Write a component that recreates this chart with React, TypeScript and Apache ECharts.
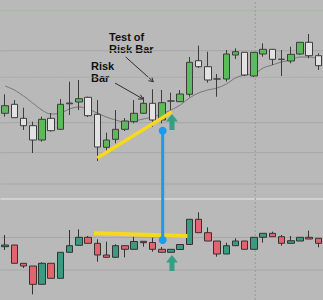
import React, { useEffect, useRef } from "react";
import * as echarts from "echarts";

// 35 sessions
const categories = [
  "01", "02", "03", "04", "05", "06", "07", "08", "09", "10",
  "11", "12", "13", "14", "15", "16", "17", "18", "19", "20",
  "21", "22", "23", "24", "25", "26", "27", "28", "29", "30",
  "31", "32", "33", "34", "35",
];

// Upper panel: price candles [open, close, low, high]
const priceOHLC: number[][] = [
  [186.7, 194.3, 183.3, 205.7],
  [195.7, 182.3, 182.0, 200.0],
  [181.7, 174.3, 170.0, 192.3],
  [174.3, 160.0, 147.0, 178.3],
  [160.0, 180.7, 158.3, 183.3],
  [181.7, 169.3, 168.3, 187.0],
  [170.7, 195.7, 170.0, 201.0],
  [196.2, 197.0, 185.0, 218.3],
  [198.0, 201.3, 190.0, 220.0],
  [202.7, 184.3, 183.0, 203.3],
  [185.7, 153.0, 139.0, 200.0],
  [152.7, 160.0, 148.3, 167.3],
  [160.7, 170.7, 156.7, 190.0],
  [170.7, 179.0, 169.0, 182.0],
  [178.3, 186.7, 176.7, 200.0],
  [186.7, 196.7, 186.0, 203.0],
  [196.7, 180.0, 173.3, 210.7],
  [180.0, 197.3, 176.7, 210.0],
  [199.0, 199.0, 190.0, 207.3],
  [198.3, 206.0, 198.0, 210.0],
  [205.7, 237.7, 203.3, 243.0],
  [239.3, 233.3, 232.0, 254.3],
  [233.3, 220.0, 217.3, 248.3],
  [221.0, 221.0, 203.3, 226.0],
  [221.0, 246.0, 218.3, 250.0],
  [245.0, 248.3, 241.0, 251.7],
  [247.7, 225.0, 224.0, 248.0],
  [224.0, 247.7, 223.0, 248.0],
  [246.0, 250.7, 243.3, 256.7],
  [250.7, 240.7, 235.0, 251.0],
  [240.7, 240.7, 224.0, 250.0],
  [239.0, 245.7, 236.7, 253.3],
  [246.0, 257.7, 245.0, 258.0],
  [257.7, 244.3, 241.7, 266.0],
  [244.3, 234.3, 230.0, 246.7],
];

// Upper panel: moving average
const priceMA: number[] = [
  214, 210, 204, 197, 190, 186, 187, 191, 193, 191,
  187, 183, 180, 178, 179, 181, 183, 186, 190, 195,
  202, 207, 210, 212, 216, 222, 225, 226, 232, 235,
  238, 240, 243, 243, 241,
];

// Lower panel: candles [open, close, low, high]
const lowerOHLC: number[][] = [
  [53.3, 55.0, 50.0, 65.0],
  [55.0, 36.7, 36.7, 55.0],
  [36.7, 34.0, 32.0, 37.0],
  [34.0, 15.7, 5.7, 34.0],
  [15.7, 36.7, 15.7, 37.7],
  [36.7, 21.7, 21.7, 36.7],
  [21.7, 47.7, 21.7, 47.7],
  [47.7, 54.3, 47.7, 70.0],
  [54.7, 62.7, 54.7, 70.7],
  [62.7, 56.7, 56.7, 64.0],
  [56.7, 45.0, 38.3, 60.7],
  [45.0, 42.7, 42.7, 58.3],
  [42.7, 54.3, 42.7, 55.7],
  [54.3, 50.7, 42.7, 54.3],
  [50.7, 58.5, 50.7, 63.3],
  [58.7, 57.3, 53.3, 58.7],
  [57.5, 50.7, 48.3, 62.3],
  [50.7, 47.7, 47.7, 53.0],
  [47.7, 50.7, 47.7, 50.7],
  [50.5, 55.5, 50.5, 55.5],
  [55.5, 80.7, 55.5, 80.7],
  [80.7, 67.3, 67.3, 87.7],
  [67.3, 59.0, 59.0, 72.7],
  [59.0, 46.0, 43.3, 59.0],
  [46.0, 54.3, 46.0, 57.3],
  [54.3, 59.0, 54.3, 61.7],
  [59.0, 50.7, 50.7, 59.0],
  [50.7, 62.7, 50.7, 62.7],
  [62.7, 66.7, 57.3, 66.7],
  [66.7, 63.3, 63.3, 68.3],
  [63.3, 56.7, 54.3, 65.0],
  [56.7, 59.3, 56.7, 64.0],
  [59.0, 62.7, 59.0, 62.7],
  [62.7, 61.0, 61.0, 69.3],
  [61.7, 56.7, 52.7, 61.7],
];

// Horizontal chart levels
const gridLevels = [249.3, 177.3, 147.3, 116, 62.5, 30];
const greenLevel = 289.3;
const dottedLevel = 222.7;
const panelDivider = 101;
const verticalMarker = 27.15;

// Annotations (x in session index, y in panel value)
const riskTrendline = [[10.0, 142], [18.08, 188]];
const lowerTrendline = [[9.65, 66.7], [19.79, 64]];
const testConnector = [[17.1, 169.3], [17.1, 60]];
const entryArrows = [[18.11, 178], [18.11, 37]];

const X0 = -0.5;
const X1 = 34.5;

function hLine(v: number) {
  return [[X0, v], [X1, v], ["-", "-"]];
}

function arrowHead(x1: number, y1: number, x2: number, y2: number) {
  const dx = x2 - x1;
  const dy = y2 - y1;
  const len = Math.hypot(dx, dy);
  const ux = dx / len;
  const uy = dy / len;
  const L = 5;
  const c = Math.cos(Math.PI / 6);
  const s = Math.sin(Math.PI / 6);
  const ax = ux * c - uy * s;
  const ay = ux * s + uy * c;
  const bx = ux * c + uy * s;
  const by = -ux * s + uy * c;
  return [
    [x2 - L * ax, y2 - L * ay],
    [x2, y2],
    [x2 - L * bx, y2 - L * by],
  ];
}

export default function App() {
  const ref = useRef<HTMLDivElement>(null);

  useEffect(() => {
    if (!ref.current) return;
    const chart = echarts.init(ref.current, null, { renderer: "svg" });

    const gridLineData: any[] = [];
    gridLevels.forEach((v) => gridLineData.push(...hLine(v)));

    const arrowStroke = { stroke: "#2e2e2e", lineWidth: 1 };
    const a1 = [115, 83, 143, 99];
    const a2 = [125.7, 57, 153.3, 81.7];
    const textFont = "bold 11px 'Liberation Sans'";

    const option: any = {
      animation: false,
      backgroundColor: "#b9b9b9",
      grid: { left: 0.5, right: 0, top: 0, bottom: 0 },
      xAxis: [
        { type: "category", data: categories, show: false, boundaryGap: true },
        { type: "value", min: X0, max: X1, show: false },
      ],
      yAxis: [{ type: "value", min: 0, max: 300, show: false }],
      series: [
        {
          type: "line",
          xAxisIndex: 1,
          data: gridLineData,
          symbol: "none",
          silent: true,
          z: 0,
          lineStyle: { color: "#a7a7a7", width: 1 },
        },
        {
          type: "line",
          xAxisIndex: 1,
          data: hLine(greenLevel),
          symbol: "none",
          silent: true,
          z: 0,
          lineStyle: { color: "#a9b6a9", width: 1 },
        },
        {
          type: "line",
          xAxisIndex: 1,
          data: hLine(dottedLevel),
          symbol: "none",
          silent: true,
          z: 0,
          lineStyle: { color: "#a9a9a9", width: 1, type: [2, 1] },
        },
        {
          type: "line",
          xAxisIndex: 1,
          data: hLine(panelDivider),
          symbol: "none",
          silent: true,
          z: 0,
          lineStyle: { color: "#dadada", width: 1.5 },
        },
        {
          type: "line",
          xAxisIndex: 1,
          data: [[verticalMarker, 0], [verticalMarker, 300]],
          symbol: "none",
          silent: true,
          z: 0,
          lineStyle: { color: "#9a9a9a", width: 1, type: [2, 2] },
        },
        {
          type: "line",
          data: priceMA,
          symbol: "none",
          smooth: 0.4,
          silent: true,
          z: 1,
          lineStyle: { color: "#767676", width: 1 },
        },
        {
          type: "candlestick",
          data: priceOHLC,
          barWidth: 7,
          z: 2,
          itemStyle: {
            color: "#5cba5c",
            color0: "#e2e2e2",
            borderColor: "#3c3c3c",
            borderColor0: "#3c3c3c",
            borderWidth: 1,
          },
        },
        {
          type: "candlestick",
          data: lowerOHLC,
          barWidth: 7,
          z: 2,
          itemStyle: {
            color: "#3b9a82",
            color0: "#e3646c",
            borderColor: "#333333",
            borderColor0: "#333333",
            borderWidth: 1,
          },
        },
        {
          type: "line",
          xAxisIndex: 1,
          data: riskTrendline,
          symbol: "none",
          z: 5,
          lineStyle: { color: "#f8d81a", width: 3.5 },
        },
        {
          type: "line",
          xAxisIndex: 1,
          data: lowerTrendline,
          symbol: "none",
          z: 5,
          lineStyle: { color: "#f8d81a", width: 4 },
        },
        {
          type: "line",
          xAxisIndex: 1,
          data: testConnector,
          symbol: "circle",
          symbolSize: 8,
          showSymbol: true,
          z: 6,
          itemStyle: { color: "#1c9bea" },
          lineStyle: { color: "#1c9bea", width: 3 },
        },
        {
          type: "scatter",
          xAxisIndex: 1,
          data: entryArrows,
          symbol: "path://M6,0 L12,8 L8.5,8 L8.5,17 L3.5,17 L3.5,8 L0,8 Z",
          symbolSize: [12, 16],
          z: 7,
          itemStyle: { color: "#139a78" },
        },
      ],
      graphic: [
        {
          type: "text",
          left: 109,
          top: 31,
          style: {
            text: "Test of\nRisk Bar",
            font: textFont,
            fill: "#111111",
            lineHeight: 12,
          },
        },
        {
          type: "text",
          left: 91,
          top: 60,
          style: {
            text: "Risk\nBar",
            font: textFont,
            fill: "#111111",
            lineHeight: 12,
          },
        },
        {
          type: "line",
          shape: { x1: a1[0], y1: a1[1], x2: a1[2], y2: a1[3] },
          style: arrowStroke,
        },
        {
          type: "polyline",
          shape: { points: arrowHead(a1[0], a1[1], a1[2], a1[3]) },
          style: arrowStroke,
        },
        {
          type: "line",
          shape: { x1: a2[0], y1: a2[1], x2: a2[2], y2: a2[3] },
          style: arrowStroke,
        },
        {
          type: "polyline",
          shape: { points: arrowHead(a2[0], a2[1], a2[2], a2[3]) },
          style: arrowStroke,
        },
      ],
    };

    chart.setOption(option);
    return () => chart.dispose();
  }, []);

  return (
    <div
      ref={ref}
      style={{ position: "fixed", left: 0, top: 0, width: 323, height: 300 }}
    />
  );
}
